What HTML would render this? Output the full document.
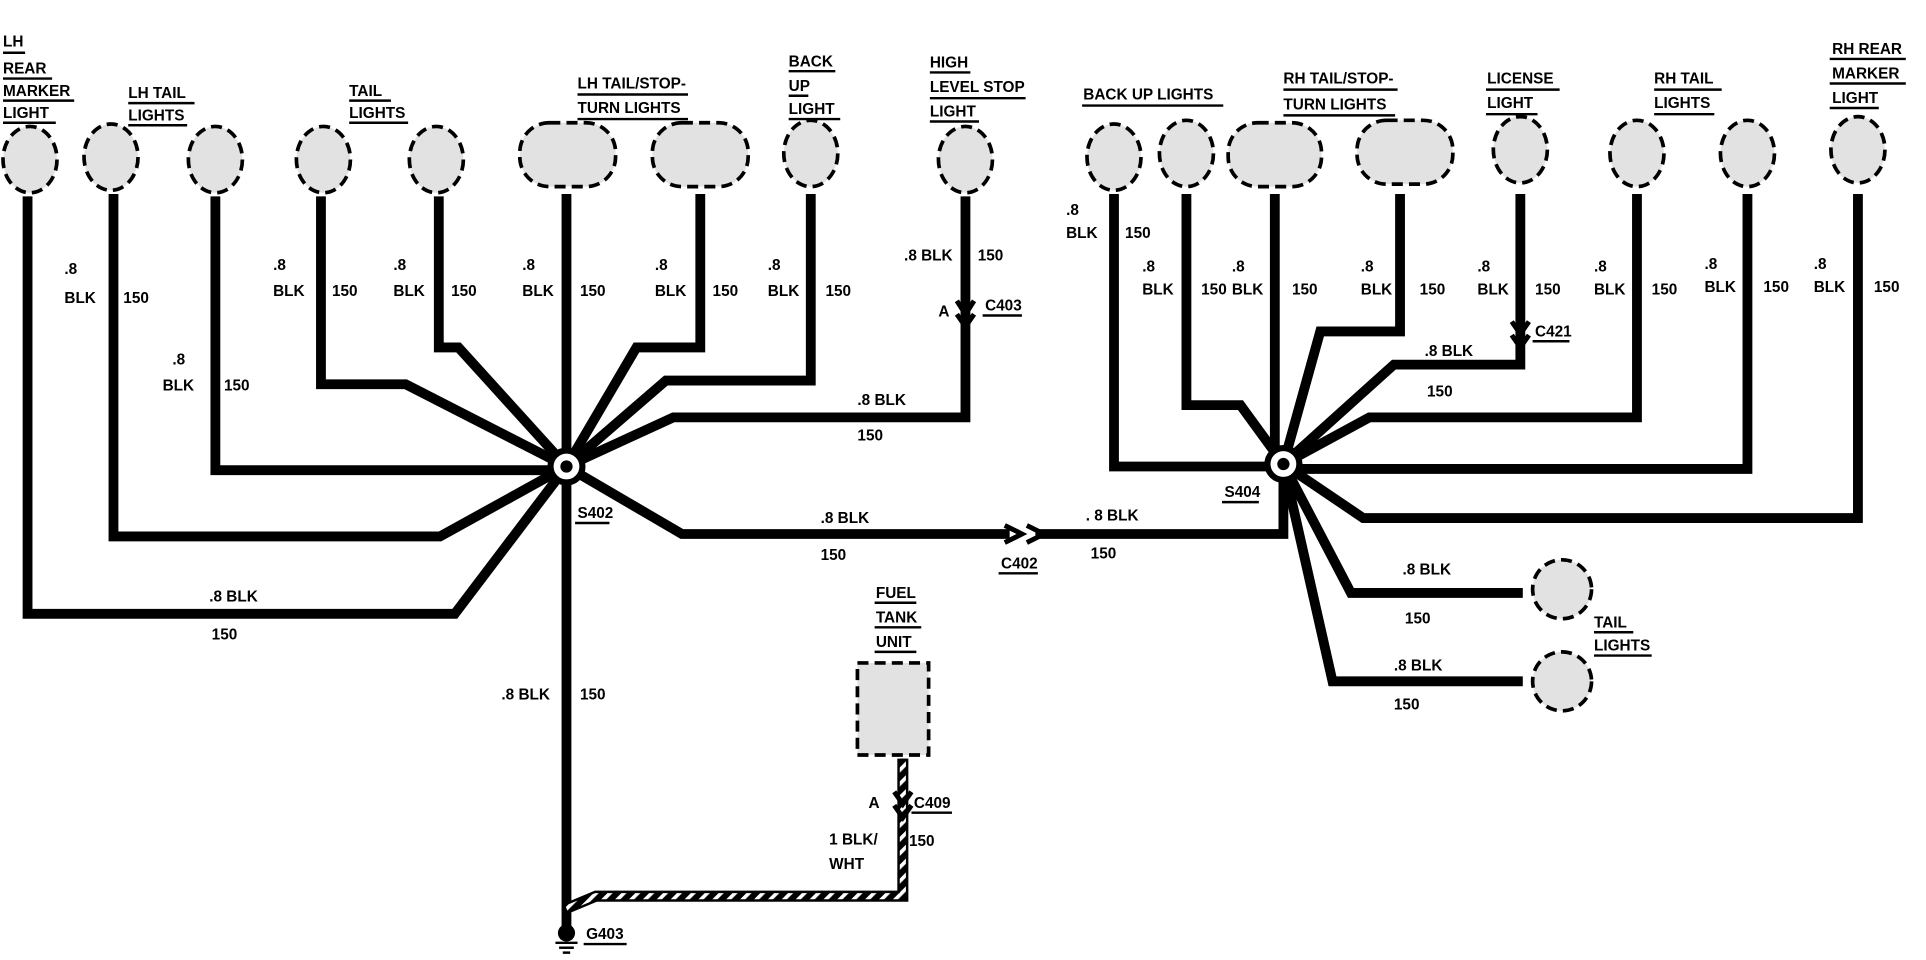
<!DOCTYPE html>
<html><head><meta charset="utf-8"><style>
html,body{margin:0;padding:0;background:#fff;}
svg{display:block;}
text{font-family:"Liberation Sans",sans-serif;font-weight:bold;font-size:12.5px;fill:#000;}
.w{fill:none;stroke:#000;stroke-width:8;stroke-linejoin:miter;}
.b{fill:#e2e2e2;stroke:#000;stroke-width:3;stroke-dasharray:9 5;}
.u{stroke:#000;stroke-width:2;}
</style></head><body>
<svg width="1926" height="960" viewBox="0 0 1568 782" xmlns="http://www.w3.org/2000/svg">
<defs><pattern id="st" width="8" height="8" patternUnits="userSpaceOnUse" patternTransform="rotate(45)"><rect width="8" height="8" fill="#000"/><rect width="3" height="8" fill="#fff"/></pattern></defs>
<!-- left wires -->
<polyline class="w" points="22,160 22,500 370,500 461,380"/>
<polyline class="w" points="92,158 92,437 358,437 461,380"/>
<polyline class="w" points="175,160 175,383 461,383"/>
<polyline class="w" points="261,160 261,313 330,313 461,380"/>
<polyline class="w" points="357,160 357,283 373,283 461,380"/>
<polyline class="w" points="461,158 461,760"/>
<polyline class="w" points="570,158 570,283 518,283 461,380"/>
<polyline class="w" points="660,158 660,310 542,310 461,380"/>
<polyline class="w" points="786,160 786,340 548,340 461,380"/>
<polyline class="w" points="461,380 555,435 822,435"/>
<polyline class="w" points="843,435 1045,435 1045,378"/>
<!-- fuel tank wire -->
<polyline points="461,740 485,730 735,730 735,618" fill="none" stroke="#000" stroke-width="9"/>
<polyline points="461,740 485,730 735,730 735,618" fill="none" stroke="url(#st)" stroke-width="5"/>
<!-- right wires -->
<polyline class="w" points="907,158 907,380 1045,380"/>
<polyline class="w" points="966,158 966,330 1010,330 1045,378"/>
<polyline class="w" points="1038,158 1038,370"/>
<polyline class="w" points="1140,158 1140,270 1075,270 1045,378"/>
<polyline class="w" points="1238,158 1238,297 1135,297 1045,378"/>
<polyline class="w" points="1333,158 1333,340 1115,340 1045,378"/>
<polyline class="w" points="1423,158 1423,382 1045,382"/>
<polyline class="w" points="1513,158 1513,422 1110,422 1045,378"/>
<polyline class="w" points="1045,378 1100,483 1240,483"/>
<polyline class="w" points="1045,378 1085,555 1240,555"/>
<!-- bulbs -->
<ellipse class="b" cx="24" cy="130" rx="22" ry="27"/>
<ellipse class="b" cx="90" cy="128" rx="22" ry="27"/>
<ellipse class="b" cx="175" cy="130" rx="22" ry="27"/>
<ellipse class="b" cx="263" cy="130" rx="22" ry="27"/>
<ellipse class="b" cx="355" cy="130" rx="22" ry="27"/>
<rect class="b" x="423" y="100" width="78" height="52" rx="24"/>
<rect class="b" x="531" y="100" width="78" height="52" rx="24"/>
<ellipse class="b" cx="660" cy="125" rx="22" ry="27"/>
<ellipse class="b" cx="786" cy="130" rx="22" ry="27"/>
<ellipse class="b" cx="907" cy="128" rx="22" ry="27"/>
<ellipse class="b" cx="966" cy="125" rx="22" ry="27"/>
<rect class="b" x="1000" y="100" width="76" height="52" rx="24"/>
<rect class="b" x="1105" y="98" width="78" height="52" rx="24"/>
<ellipse class="b" cx="1238" cy="122" rx="22" ry="27"/>
<ellipse class="b" cx="1333" cy="125" rx="22" ry="27"/>
<ellipse class="b" cx="1423" cy="125" rx="22" ry="27"/>
<ellipse class="b" cx="1513" cy="122" rx="22" ry="27"/>
<ellipse class="b" cx="1272" cy="480" rx="24" ry="24"/>
<ellipse class="b" cx="1272" cy="555" rx="24" ry="24"/>
<rect class="b" x="698" y="540" width="58" height="75"/>
<!-- splices -->
<circle cx="461" cy="380" r="13" fill="#fff" stroke="#000" stroke-width="5"/>
<circle cx="461" cy="380" r="5" fill="#000"/>
<circle cx="1045" cy="378" r="13" fill="#fff" stroke="#000" stroke-width="5"/>
<circle cx="1045" cy="378" r="5" fill="#000"/>
<!-- connectors -->
<path d="M818,428 L832,435 L818,442 M836,428 L850,435 L836,442" fill="none" stroke="#000" stroke-width="4"/>
<path d="M779,245 L786,256 L793,245 M779,256 L786,266 L793,256" fill="none" stroke="#000" stroke-width="4"/>
<path d="M1231,262 L1238,272 L1245,262 M1231,273 L1238,283 L1245,273" fill="none" stroke="#000" stroke-width="4"/>
<path d="M728,645 L735,655 L742,645 M728,656 L735,666 L742,656" fill="none" stroke="#000" stroke-width="4"/>
<!-- ground -->
<circle cx="461" cy="760" r="7" fill="#000"/>
<line x1="452" y1="768" x2="470" y2="768" class="u"/><line x1="455" y1="772" x2="467" y2="772" class="u"/><line x1="458" y1="776" x2="464" y2="776" class="u"/>
<!-- component labels -->
<text x="2" y="38">LH</text><text x="2" y="60">REAR</text><text x="2" y="78">MARKER</text><text x="2" y="96">LIGHT</text>
<line class="u" x1="2" y1="43" x2="20" y2="43"/><line class="u" x1="2" y1="64" x2="42" y2="64"/><line class="u" x1="2" y1="82" x2="60" y2="82"/><line class="u" x1="2" y1="100" x2="45" y2="100"/>
<text x="104" y="80">LH TAIL</text><text x="104" y="98">LIGHTS</text>
<line class="u" x1="104" y1="84" x2="158" y2="84"/><line class="u" x1="104" y1="102" x2="152" y2="102"/>
<text x="284" y="78">TAIL</text><text x="284" y="96">LIGHTS</text>
<line class="u" x1="284" y1="82" x2="318" y2="82"/><line class="u" x1="284" y1="100" x2="332" y2="100"/>
<text x="470" y="72">LH TAIL/STOP-</text><text x="470" y="92">TURN LIGHTS</text>
<line class="u" x1="470" y1="77" x2="560" y2="77"/><line class="u" x1="470" y1="97" x2="560" y2="97"/>
<text x="642" y="54">BACK</text><text x="642" y="74">UP</text><text x="642" y="93">LIGHT</text>
<line class="u" x1="642" y1="58" x2="680" y2="58"/><line class="u" x1="642" y1="78" x2="658" y2="78"/><line class="u" x1="642" y1="97" x2="684" y2="97"/>
<text x="757" y="55">HIGH</text><text x="757" y="75">LEVEL STOP</text><text x="757" y="95">LIGHT</text>
<line class="u" x1="757" y1="59" x2="790" y2="59"/><line class="u" x1="757" y1="80" x2="835" y2="80"/><line class="u" x1="757" y1="99" x2="797" y2="99"/>
<text x="882" y="81">BACK UP LIGHTS</text><line class="u" x1="881" y1="86" x2="996" y2="86"/>
<text x="1045" y="68">RH TAIL/STOP-</text><text x="1045" y="89">TURN LIGHTS</text>
<line class="u" x1="1045" y1="73" x2="1138" y2="73"/><line class="u" x1="1045" y1="94" x2="1136" y2="94"/>
<text x="1211" y="68">LICENSE</text><text x="1211" y="88">LIGHT</text>
<line class="u" x1="1210" y1="73" x2="1270" y2="73"/><line class="u" x1="1210" y1="93" x2="1252" y2="93"/>
<text x="1347" y="68">RH TAIL</text><text x="1347" y="88">LIGHTS</text>
<line class="u" x1="1347" y1="73" x2="1402" y2="73"/><line class="u" x1="1347" y1="93" x2="1396" y2="93"/>
<text x="1492" y="44">RH REAR</text><text x="1492" y="64">MARKER</text><text x="1492" y="84">LIGHT</text>
<line class="u" x1="1490" y1="48" x2="1552" y2="48"/><line class="u" x1="1490" y1="68" x2="1552" y2="68"/><line class="u" x1="1490" y1="88" x2="1530" y2="88"/>
<text x="713" y="487">FUEL</text><text x="713" y="507">TANK</text><text x="713" y="527">UNIT</text>
<line class="u" x1="712" y1="491" x2="746" y2="491"/><line class="u" x1="712" y1="511" x2="750" y2="511"/><line class="u" x1="712" y1="531" x2="746" y2="531"/>
<text x="1298" y="511">TAIL</text><text x="1298" y="530">LIGHTS</text>
<line class="u" x1="1298" y1="515" x2="1330" y2="515"/><line class="u" x1="1298" y1="534" x2="1345" y2="534"/>
<text x="470" y="422">S402</text><line class="u" x1="468" y1="426" x2="496" y2="426"/>
<text x="997" y="405">S404</text><line class="u" x1="995" y1="409" x2="1025" y2="409"/>
<text x="815" y="463">C402</text><line class="u" x1="813" y1="467" x2="845" y2="467"/>
<text x="802" y="253">C403</text><line class="u" x1="800" y1="257" x2="832" y2="257"/>
<text x="1250" y="274">C421</text><line class="u" x1="1248" y1="278" x2="1278" y2="278"/>
<text x="744" y="658">C409</text><line class="u" x1="742" y1="662" x2="775" y2="662"/>
<text x="477" y="765">G403</text><line class="u" x1="475" y1="769" x2="510" y2="769"/>
<text x="764" y="258">A</text><text x="707" y="658">A</text>
<!-- wire labels -->
<text x="52" y="223">.8</text><text x="52" y="247">BLK</text><text x="100" y="247">150</text>
<text x="140" y="297">.8</text><text x="132" y="318">BLK</text><text x="182" y="318">150</text>
<text x="222" y="220">.8</text><text x="222" y="241">BLK</text><text x="270" y="241">150</text>
<text x="320" y="220">.8</text><text x="320" y="241">BLK</text><text x="367" y="241">150</text>
<text x="425" y="220">.8</text><text x="425" y="241">BLK</text><text x="472" y="241">150</text>
<text x="533" y="220">.8</text><text x="533" y="241">BLK</text><text x="580" y="241">150</text>
<text x="625" y="220">.8</text><text x="625" y="241">BLK</text><text x="672" y="241">150</text>
<text x="736" y="212">.8 BLK</text><text x="796" y="212">150</text>
<text x="698" y="330">.8 BLK</text><text x="698" y="359">150</text>
<text x="170" y="490">.8 BLK</text><text x="172" y="521">150</text>
<text x="668" y="426">.8 BLK</text><text x="668" y="456">150</text>
<text x="884" y="424">. 8 BLK</text><text x="888" y="455">150</text>
<text x="408" y="570">.8 BLK</text><text x="472" y="570">150</text>
<text x="675" y="688">1 BLK/</text><text x="675" y="708">WHT</text><text x="740" y="689">150</text>
<text x="868" y="175">.8</text><text x="868" y="194">BLK</text><text x="916" y="194">150</text>
<text x="930" y="221">.8</text><text x="930" y="240">BLK</text><text x="978" y="240">150</text><text x="1003" y="221">.8</text><text x="1003" y="240">BLK</text><text x="1052" y="240">150</text>
<text x="1108" y="221">.8</text><text x="1108" y="240">BLK</text><text x="1156" y="240">150</text>
<text x="1203" y="221">.8</text><text x="1203" y="240">BLK</text><text x="1250" y="240">150</text>
<text x="1298" y="221">.8</text><text x="1298" y="240">BLK</text><text x="1345" y="240">150</text>
<text x="1388" y="219">.8</text><text x="1388" y="238">BLK</text><text x="1436" y="238">150</text>
<text x="1477" y="219">.8</text><text x="1477" y="238">BLK</text><text x="1526" y="238">150</text>
<text x="1160" y="290">.8 BLK</text><text x="1162" y="323">150</text>
<text x="1142" y="468">.8 BLK</text><text x="1144" y="508">150</text>
<text x="1135" y="546">.8 BLK</text><text x="1135" y="578">150</text>
</svg>
</body></html>
